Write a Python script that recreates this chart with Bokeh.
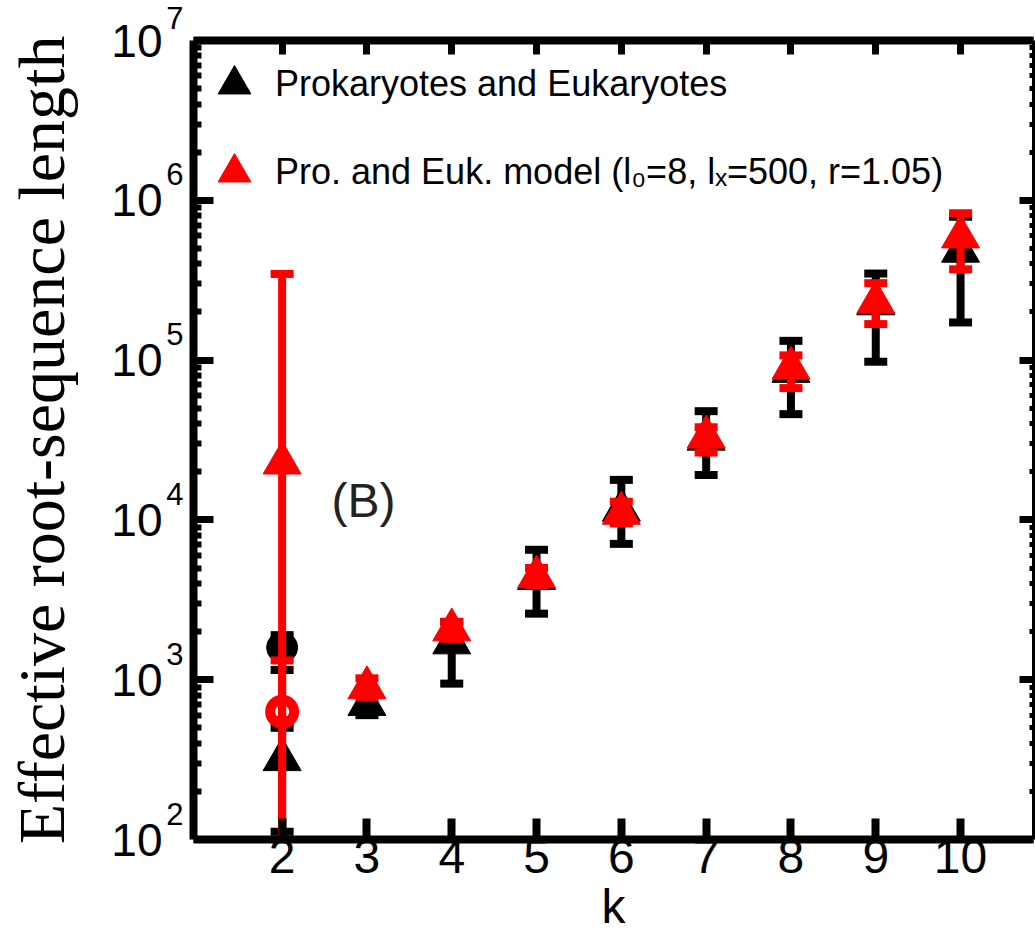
from bokeh.plotting import figure
from bokeh.models import (Range1d, LogAxis, LinearAxis, FixedTicker, Label, Legend,
                          LegendItem, CustomJSTickFormatter)
from bokeh.embed import file_html
from bokeh.resources import INLINE

# ---- data ----
k = [2, 3, 4, 5, 6, 7, 8, 9, 10]

obs_val = [316, 700, 1700, 4300, 11500, 32000, 85000, 225000, 480000]
obs_low = [112, 600, 945, 2590, 7080, 19100, 45900, 97700, 172000]
obs_high = [500, 850, 2300, 6500, 17800, 47900, 132000, 348000, 790000]

model_val = [22700, 890, 2050, 4400, 11000, 33000, 89000, 230000, 590000]
model_low = [95, 780, 1800, 3900, 9500, 26400, 66800, 168000, 370000]
model_high = [346000, 1020, 2300, 5000, 13000, 38000, 107000, 303000, 830000]

extra_k = [2]
obs_circle_val = [1590]
obs_circle_low = [1150]
obs_circle_high = [1900]
model_circle_val = [630]
model_circle_low = [560]
model_circle_high = [1320]

x_ticks = [2, 3, 4, 5, 6, 7, 8, 9, 10]
y_exponents = [2, 3, 4, 5, 6, 7]
y_ticks = [10.0 ** e for e in y_exponents]
y_minor = [m * 10.0 ** e for e in y_exponents[:-1] for m in range(2, 10)]

legend_labels = ["Prokaryotes and Eukaryotes",
                 "Pro. and Euk. model (l\u2080=8, l\u2093=500, r=1.05)"]
y_title = "Effective root-sequence length"
x_title = "k"
panel_tag = "(B)"

SANS = "Liberation Sans"

p = figure(width=1035, height=936, x_range=Range1d(0.955, 10.86),
           y_range=Range1d(100, 1e7), y_axis_type="log",
           output_backend="svg", toolbar_location=None,
           min_border_left=193, min_border_right=2, min_border_top=40,
           min_border_bottom=97)
p.grid.visible = False
p.outline_line_color = None
p.background_fill_color = "white"
p.border_fill_color = "white"

blank = CustomJSTickFormatter(code="return ''")

# bottom axis
xa = p.xaxis[0]
xa.ticker = FixedTicker(ticks=x_ticks)
xa.major_tick_in = 21
xa.major_tick_out = 0
xa.major_tick_line_width = 8
xa.minor_tick_in = 0
xa.minor_tick_out = 0
xa.axis_line_width = 8
xa.major_label_text_font = SANS
xa.major_label_text_font_size = "48px"
xa.major_label_standoff = 0
xa.major_label_text_color = "black"
xa.axis_label = x_title
xa.axis_label_text_font = SANS
xa.axis_label_text_font_size = "48px"
xa.axis_label_text_font_style = "normal"
xa.axis_label_text_color = "black"
xa.axis_label_standoff = 4

# left axis (frame side): ticks + exponent part of the tick labels
ya = p.yaxis[0]
ya.ticker = FixedTicker(ticks=y_ticks, minor_ticks=y_minor)
ya.formatter = CustomJSTickFormatter(code="return String(Math.round(Math.log10(tick))) + '\\n'")
ya.major_tick_in = 20
ya.major_tick_out = 0
ya.major_tick_line_width = 7
ya.minor_tick_in = 8
ya.minor_tick_out = 0
ya.minor_tick_line_width = 6
ya.axis_line_width = 8
ya.major_label_text_font = SANS
ya.major_label_text_font_size = "31px"
ya.major_label_text_line_height = 1.45
ya.major_label_standoff = 10
ya.major_label_text_baseline = "middle"
ya.major_label_text_align = "right"
ya.major_label_text_color = "black"

# outer left axis: base "10" of the tick labels + y title
ya2 = LogAxis(ticker=FixedTicker(ticks=y_ticks), formatter=CustomJSTickFormatter(code="return '10'"),
              major_tick_in=0, major_tick_out=0, minor_tick_in=0, minor_tick_out=0,
              axis_line_color=None, major_tick_line_color=None, minor_tick_line_color=None,
              major_label_standoff=1, major_label_text_font=SANS,
              major_label_text_font_size="46px", major_label_text_color="black",
              axis_label=y_title, axis_label_text_font="Liberation Serif",
              axis_label_text_font_size="66px", axis_label_text_font_style="normal",
              axis_label_text_color="black", axis_label_standoff=30)
p.add_layout(ya2, "left")

# top axis
ta = LinearAxis(ticker=FixedTicker(ticks=x_ticks), formatter=blank,
                major_tick_in=14, major_tick_out=0, major_tick_line_width=7,
                minor_tick_in=0, minor_tick_out=0, axis_line_width=8,
                major_label_standoff=0)
p.add_layout(ta, "above")

# right axis
ra = LogAxis(ticker=FixedTicker(ticks=y_ticks, minor_ticks=y_minor), formatter=blank,
             major_tick_in=14, major_tick_out=0, major_tick_line_width=7,
             minor_tick_in=4, minor_tick_out=0, minor_tick_line_width=5,
             axis_line_width=3, major_label_standoff=0)
p.add_layout(ra, "right")

CAP_W, CAP_H, STEM = 23, 8, 8

# black error bars
p.segment(x0=k, y0=obs_low, x1=k, y1=obs_high, line_color="black", line_width=STEM)
p.segment(x0=extra_k, y0=obs_circle_low, x1=extra_k, y1=obs_circle_high,
          line_color="black", line_width=STEM)
for ys, xs in ((obs_low, k), (obs_high, k), (obs_circle_low, extra_k), (obs_circle_high, extra_k)):
    p.rect(x=xs, y=ys, width=CAP_W, height=CAP_H, width_units="screen",
           height_units="screen", fill_color="black", line_color=None)

obs_circ = p.scatter(x=extra_k, y=obs_circle_val, marker="circle", size=31,
                     fill_color="black", line_color="black")
obs_tri = p.scatter(x=k, y=obs_val, marker="triangle", size=38,
                    fill_color="black", line_color="black")

# red error bars
p.segment(x0=k, y0=model_low, x1=k, y1=model_high, line_color="red", line_width=STEM)
p.segment(x0=extra_k, y0=model_circle_low, x1=extra_k, y1=model_circle_high,
          line_color="red", line_width=STEM)
for ys, xs in ((model_low, k), (model_high, k), (model_circle_low, extra_k), (model_circle_high, extra_k)):
    p.rect(x=xs, y=ys, width=CAP_W, height=CAP_H, width_units="screen",
           height_units="screen", fill_color="red", line_color=None)

model_tri = p.scatter(x=k, y=model_val, marker="triangle", size=38,
                      fill_color="red", line_color="red")
model_circ = p.scatter(x=extra_k, y=model_circle_val, marker="circle", size=24,
                       fill_color=None, line_color="red", line_width=10)

legend = Legend(items=[LegendItem(label=legend_labels[0], renderers=[obs_tri]),
                       LegendItem(label=legend_labels[1], renderers=[model_tri])],
                location="top_left", orientation="vertical",
                glyph_width=82, glyph_height=88, label_height=88,
                spacing=0, padding=1, margin=0, label_standoff=0,
                border_line_color=None, background_fill_alpha=0,
                label_text_font=SANS, label_text_font_size="36px",
                label_text_color="black")
p.add_layout(legend)

p.add_layout(Label(x=2.96, y=13150, text=panel_tag, text_align="center",
                   text_baseline="middle", text_font=SANS, text_font_size="48px",
                   text_color="#222222"))

open("out.html", "w").write(file_html(p, INLINE))
